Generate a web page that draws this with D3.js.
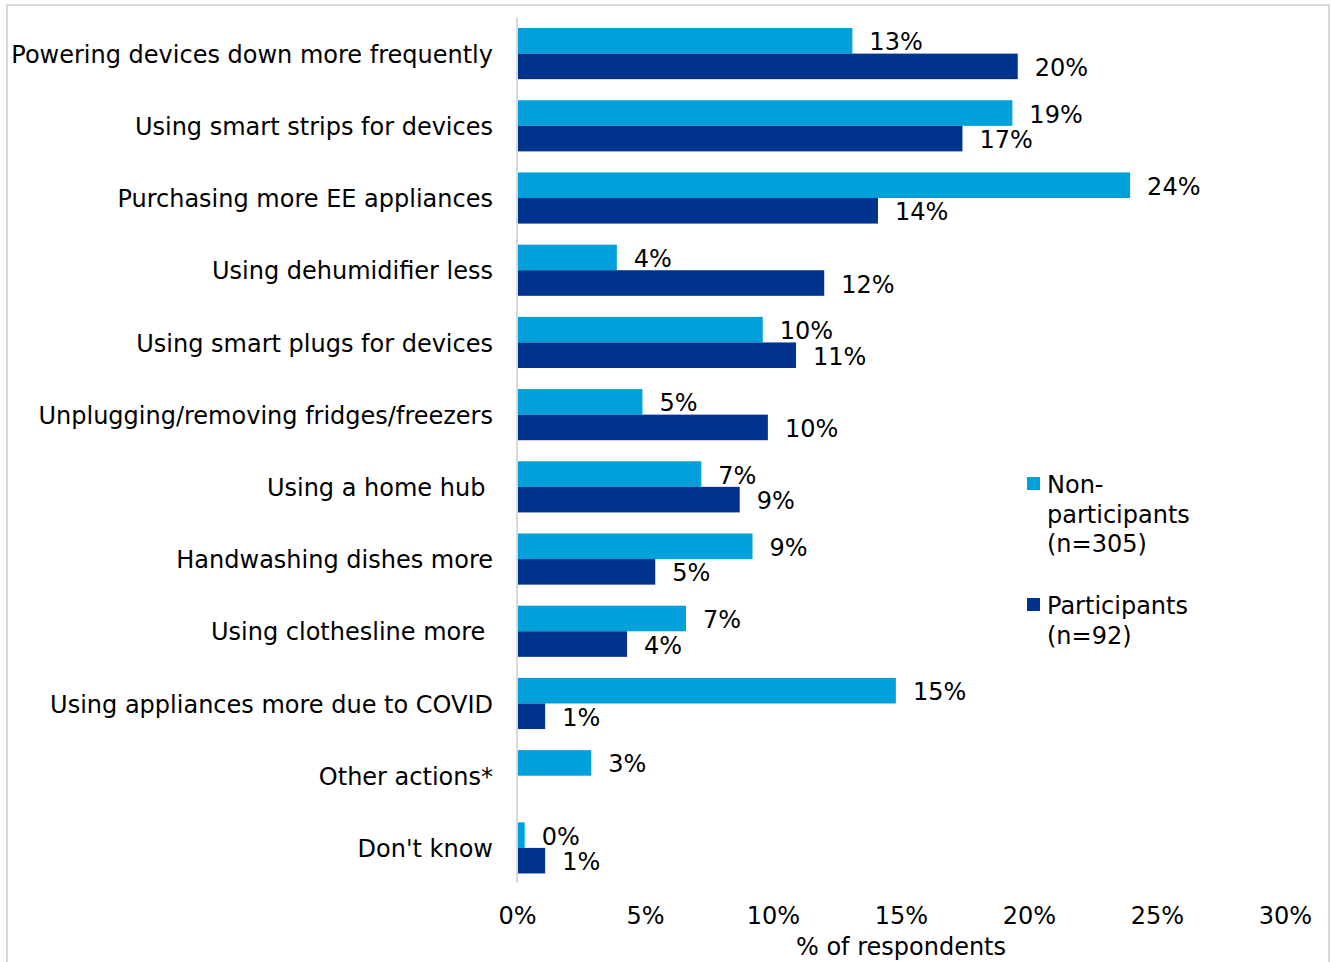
<!DOCTYPE html>
<html>
<head>
<meta charset="utf-8">
<script src="https://cdn.jsdelivr.net/npm/d3@7"></script>
<style>
  html, body { margin: 0; padding: 0; background: #fff; }
  svg { display: block; }
  text { font-family: "DejaVu Sans", Verdana, sans-serif; fill: #000; }
</style>
</head>
<body>
<svg id="chart" width="1331" height="962"></svg>
<script>
// Energy-saving actions reported by respondents (% of respondents)
const categories = [
  "Powering devices down more frequently",
  "Using smart strips for devices",
  "Purchasing more EE appliances",
  "Using dehumidifier less",
  "Using smart plugs for devices",
  "Unplugging/removing fridges/freezers",
  "Using a home hub ",
  "Handwashing dishes more",
  "Using clothesline more ",
  "Using appliances more due to COVID",
  "Other actions*",
  "Don't know"
];
const nonParticipants = [13.1, 19.35, 23.95, 3.9, 9.6, 4.9, 7.2, 9.2, 6.6, 14.8, 2.9, 0.3];
const participants    = [19.56, 17.4, 14.1, 12.0, 10.9, 9.8, 8.7, 5.4, 4.3, 1.1, null, 1.1];
const seriesNames = ["Non-participants (n=305)", "Participants (n=92)"];
const legendLines = [["Non-", "participants", "(n=305)"], ["Participants", "(n=92)"]];
const seriesColors = ["#00A0DA", "#00338D"];
const xTicks = [0, 5, 10, 15, 20, 25, 30];
const xTitle = "% of respondents";

const svg = d3.select("#chart");
const W = 1331, H = 962;
const fontSize = 24;

// outer frame
svg.append("rect")
  .attr("x", 7).attr("y", 5).attr("width", 1322).attr("height", H + 10)
  .attr("fill", "none").attr("stroke", "#d9d9d9").attr("stroke-width", 2);

const x = d3.scaleLinear().domain([0, 30]).range([517, 1285]);
const y = d3.scaleBand().domain(categories).range([17.5, 884])
  .paddingInner(21 / 72).paddingOuter(21 / 144);
const ySub = d3.scaleBand().domain([0, 1]).range([0, y.bandwidth()]);
const fmt = v => d3.format(".0f")(v) + "%";

const rows = categories.map((c, i) => ({ c, vals: [nonParticipants[i], participants[i]] }));

const groups = svg.append("g").selectAll("g.row").data(rows).join("g")
  .attr("class", "row")
  .attr("transform", d => `translate(0,${y(d.c)})`);

const cells = groups.selectAll("g.cell")
  .data(d => d.vals.map((v, s) => ({ v, s })).filter(e => e.v !== null))
  .join("g").attr("class", "cell");

cells.append("rect")
  .attr("x", x(0))
  .attr("y", d => ySub(d.s))
  .attr("width", d => x(d.v) - x(0))
  .attr("height", ySub.bandwidth())
  .attr("fill", d => seriesColors[d.s]);

cells.append("text")
  .attr("x", d => x(d.v) + 17)
  .attr("y", d => ySub(d.s) + ySub.bandwidth() / 2)
  .attr("dy", "0.4em")
  .attr("font-size", fontSize)
  .text(d => fmt(d.v));

// category labels
const yAxis = svg.append("g")
  .attr("transform", `translate(${x(0)},0)`)
  .call(d3.axisLeft(y).tickSize(0).tickPadding(24));
yAxis.select(".domain").remove();
yAxis.selectAll("text")
  .attr("font-size", fontSize)
  .attr("font-family", null)
  .attr("dy", "0.38em")
  .style("white-space", "pre");

// vertical baseline
svg.append("line")
  .attr("x1", x(0)).attr("x2", x(0)).attr("y1", 17).attr("y2", 883)
  .attr("stroke", "#d9d9d9").attr("stroke-width", 2);

// x axis tick labels
const xAxis = svg.append("g")
  .attr("transform", "translate(0,924)")
  .call(d3.axisBottom(x).tickValues(xTicks).tickSize(0).tickPadding(0).tickFormat(d => d + "%"));
xAxis.select(".domain").remove();
xAxis.selectAll("text")
  .attr("font-size", fontSize)
  .attr("font-family", null)
  .attr("y", 0)
  .attr("dy", 0);

svg.append("text")
  .attr("x", 901).attr("y", 955)
  .attr("text-anchor", "middle")
  .attr("font-size", fontSize)
  .text(xTitle);

// legend
const legendTop = [477, 598];
const legend = svg.append("g").selectAll("g").data(seriesNames).join("g")
  .attr("transform", (d, i) => `translate(1027,${legendTop[i]})`);
legend.append("rect")
  .attr("width", 13).attr("height", 13)
  .attr("fill", (d, i) => seriesColors[i]);
legend.append("text")
  .attr("font-size", fontSize)
  .selectAll("tspan").data((d, i) => legendLines[i]).join("tspan")
  .attr("x", 20)
  .attr("y", (d, j) => 16 + j * 29.5)
  .text(d => d);
</script>
</body>
</html>
